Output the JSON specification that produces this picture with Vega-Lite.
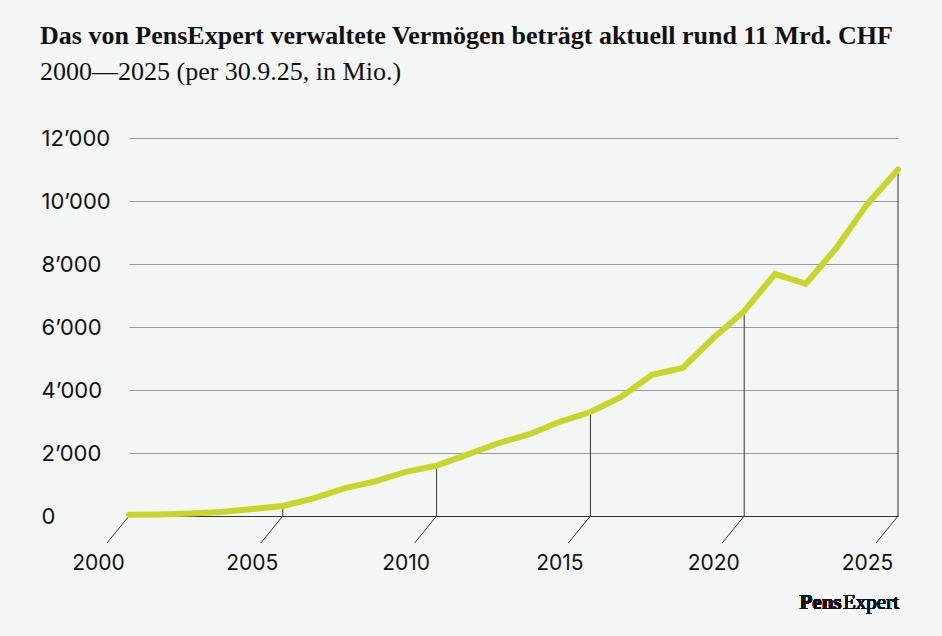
{
  "$schema": "https://vega.github.io/schema/vega-lite/v6.json",
  "width": 769,
  "height": 378,
  "autosize": "none",
  "padding": {"left": 129, "top": 138, "right": 44, "bottom": 120},
  "background": "#f4f5f5",
  "config": {"view": {"stroke": null}},
  "title": {
    "text": "Das von PensExpert verwaltete Vermögen beträgt aktuell rund 11 Mrd. CHF",
    "subtitle": "2000—2025 (per 30.9.25, in Mio.)",
    "anchor": "start",
    "frame": "group",
    "dx": -89,
    "offset": 42,
    "font": "Liberation Serif",
    "fontSize": 26,
    "fontWeight": "bold",
    "color": "#111111",
    "subtitleFont": "Liberation Serif",
    "subtitleFontSize": 26,
    "subtitleColor": "#111111",
    "subtitlePadding": 10
  },
  "data": {
    "values": [
      {"year": 2000, "value": 40},
      {"year": 2001, "value": 50},
      {"year": 2002, "value": 80},
      {"year": 2003, "value": 130},
      {"year": 2004, "value": 220},
      {"year": 2005, "value": 320},
      {"year": 2006, "value": 560},
      {"year": 2007, "value": 880},
      {"year": 2008, "value": 1100},
      {"year": 2009, "value": 1400},
      {"year": 2010, "value": 1600},
      {"year": 2011, "value": 1950},
      {"year": 2012, "value": 2310},
      {"year": 2013, "value": 2590},
      {"year": 2014, "value": 2990},
      {"year": 2015, "value": 3300},
      {"year": 2016, "value": 3780},
      {"year": 2017, "value": 4480},
      {"year": 2018, "value": 4700},
      {"year": 2019, "value": 5650},
      {"year": 2020, "value": 6500},
      {"year": 2021, "value": 7680},
      {"year": 2022, "value": 7370},
      {"year": 2023, "value": 8510},
      {"year": 2024, "value": 9900},
      {"year": 2025, "value": 11000}
    ]
  },
  "layer": [
    {
      "transform": [{"filter": "datum.year % 5 == 0 && datum.year > 2000"}],
      "mark": {"type": "rule", "color": "#333333", "strokeWidth": 1},
      "encoding": {
        "x": {"field": "year", "type": "quantitative"},
        "y": {"field": "value", "type": "quantitative"},
        "y2": {"datum": 0}
      }
    },
    {
      "transform": [{"filter": "datum.year % 5 == 0"}],
      "mark": {"type": "rule", "color": "#333333", "strokeWidth": 1, "x2Offset": -22, "y2Offset": 27},
      "encoding": {
        "x": {"field": "year", "type": "quantitative"},
        "x2": {"field": "year"},
        "y": {"datum": 0},
        "y2": {"datum": 0}
      }
    },
    {
      "mark": {"type": "line", "color": "#c8d62b", "strokeWidth": 6, "strokeCap": "round", "strokeJoin": "miter"},
      "encoding": {
        "x": {
          "field": "year",
          "type": "quantitative",
          "scale": {"domain": [2000, 2025], "nice": false, "zero": false},
          "axis": {
            "values": [2000, 2005, 2010, 2015, 2020, 2025],
            "format": "d",
            "title": null,
            "grid": false,
            "ticks": false,
            "domain": true,
            "domainColor": "#333333",
            "domainWidth": 1,
            "labelFont": "Inter",
            "labelFontSize": 21,
            "labelColor": "#111111",
            "labelOffset": -31,
            "labelPadding": 36,
            "labelFlush": false
          }
        },
        "y": {
          "field": "value",
          "type": "quantitative",
          "scale": {"domain": [0, 12000], "nice": false},
          "axis": {
            "values": [0, 2000, 4000, 6000, 8000, 10000, 12000],
            "labelExpr": "replace(format(datum.value, ','), ',', '’')",
            "title": null,
            "grid": true,
            "gridColor": "#9a9a9a",
            "gridWidth": 1,
            "ticks": false,
            "domain": false,
            "labelAlign": "left",
            "labelPadding": 88,
            "labelFont": "Inter",
            "labelFontSize": 22,
            "labelColor": "#111111"
          }
        }
      }
    },
    {
      "mark": {"type": "text", "text": "Expert", "font": "Liberation Serif", "fontSize": 21, "align": "right", "baseline": "alphabetic", "dx": 1, "dy": 93, "color": "#111111"},
      "encoding": {"x": {"datum": 2025}, "y": {"datum": 0}}
    },
    {
      "mark": {"type": "text", "text": "Pens", "font": "Liberation Serif", "fontSize": 21, "fontWeight": "bold", "align": "right", "baseline": "alphabetic", "dx": -56.5, "dy": 93, "color": "#111111"},
      "encoding": {"x": {"datum": 2025}, "y": {"datum": 0}}
    }
  ]
}
